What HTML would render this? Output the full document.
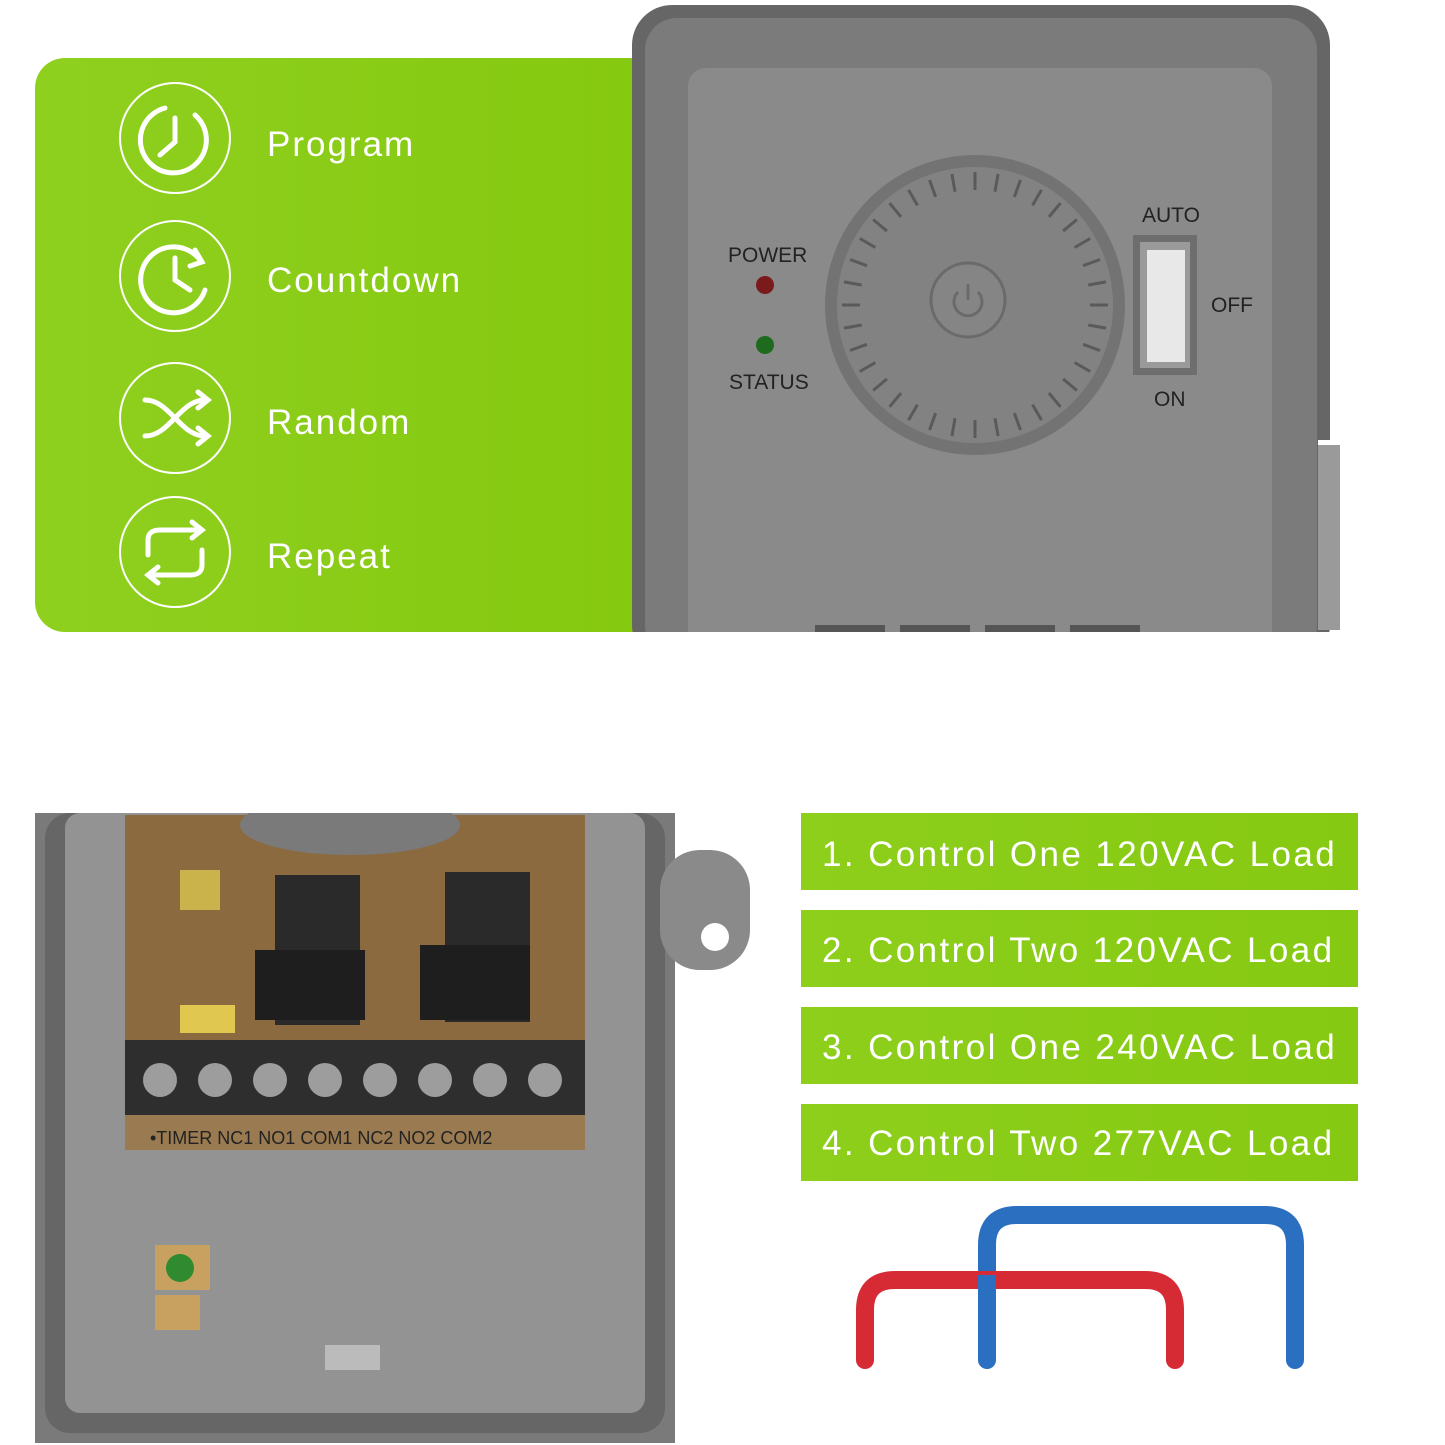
<!DOCTYPE html>
<html><head><meta charset="utf-8"><style>
html,body{margin:0;padding:0;background:#fff;}
svg{display:block}
text{font-family:"Liberation Sans",sans-serif}
</style></head><body>
<svg width="1445" height="1445" viewBox="0 0 1445 1445" xmlns="http://www.w3.org/2000/svg">
<defs>
<linearGradient id="g" x1="0" x2="1"><stop offset="0" stop-color="#8fd01f"/><stop offset="1" stop-color="#84c80e"/></linearGradient>
<linearGradient id="gb" x1="0" x2="1"><stop offset="0" stop-color="#8dcf1b"/><stop offset="1" stop-color="#86c912"/></linearGradient>
<clipPath id="bc"><rect x="35" y="813" width="720" height="632"/></clipPath>
</defs>
<rect x="35" y="58" width="660" height="574" rx="30" fill="url(#g)"/>
<rect x="632" y="5" width="698" height="660" rx="40" fill="#666"/>
<rect x="645" y="18" width="672" height="640" rx="32" fill="#7b7b7b"/>
<rect x="688" y="68" width="584" height="600" rx="18" fill="#8a8a8a"/>
<rect x="1318" y="440" width="100" height="190" fill="#fff"/>
<rect x="1318" y="445" width="22" height="185" fill="#9a9a9a"/>
<rect x="0" y="632" width="1445" height="180" fill="#fff"/>
<g fill="#555"><rect x="815" y="625" width="70" height="7"/><rect x="900" y="625" width="70" height="7"/><rect x="985" y="625" width="70" height="7"/><rect x="1070" y="625" width="70" height="7"/></g>
<circle cx="975" cy="305" r="150" fill="#737373"/>
<circle cx="975" cy="305" r="138" fill="#828282"/>
<g stroke="#5a5a5a" stroke-width="3" id="ticks">
<line x1="975" y1="172" x2="975" y2="190" transform="rotate(0 975 305)"/><line x1="975" y1="172" x2="975" y2="190" transform="rotate(10 975 305)"/><line x1="975" y1="172" x2="975" y2="190" transform="rotate(20 975 305)"/><line x1="975" y1="172" x2="975" y2="190" transform="rotate(30 975 305)"/><line x1="975" y1="172" x2="975" y2="190" transform="rotate(40 975 305)"/><line x1="975" y1="172" x2="975" y2="190" transform="rotate(50 975 305)"/><line x1="975" y1="172" x2="975" y2="190" transform="rotate(60 975 305)"/><line x1="975" y1="172" x2="975" y2="190" transform="rotate(70 975 305)"/><line x1="975" y1="172" x2="975" y2="190" transform="rotate(80 975 305)"/><line x1="975" y1="172" x2="975" y2="190" transform="rotate(90 975 305)"/><line x1="975" y1="172" x2="975" y2="190" transform="rotate(100 975 305)"/><line x1="975" y1="172" x2="975" y2="190" transform="rotate(110 975 305)"/><line x1="975" y1="172" x2="975" y2="190" transform="rotate(120 975 305)"/><line x1="975" y1="172" x2="975" y2="190" transform="rotate(130 975 305)"/><line x1="975" y1="172" x2="975" y2="190" transform="rotate(140 975 305)"/><line x1="975" y1="172" x2="975" y2="190" transform="rotate(150 975 305)"/><line x1="975" y1="172" x2="975" y2="190" transform="rotate(160 975 305)"/><line x1="975" y1="172" x2="975" y2="190" transform="rotate(170 975 305)"/><line x1="975" y1="172" x2="975" y2="190" transform="rotate(180 975 305)"/><line x1="975" y1="172" x2="975" y2="190" transform="rotate(190 975 305)"/><line x1="975" y1="172" x2="975" y2="190" transform="rotate(200 975 305)"/><line x1="975" y1="172" x2="975" y2="190" transform="rotate(210 975 305)"/><line x1="975" y1="172" x2="975" y2="190" transform="rotate(220 975 305)"/><line x1="975" y1="172" x2="975" y2="190" transform="rotate(230 975 305)"/><line x1="975" y1="172" x2="975" y2="190" transform="rotate(240 975 305)"/><line x1="975" y1="172" x2="975" y2="190" transform="rotate(250 975 305)"/><line x1="975" y1="172" x2="975" y2="190" transform="rotate(260 975 305)"/><line x1="975" y1="172" x2="975" y2="190" transform="rotate(270 975 305)"/><line x1="975" y1="172" x2="975" y2="190" transform="rotate(280 975 305)"/><line x1="975" y1="172" x2="975" y2="190" transform="rotate(290 975 305)"/><line x1="975" y1="172" x2="975" y2="190" transform="rotate(300 975 305)"/><line x1="975" y1="172" x2="975" y2="190" transform="rotate(310 975 305)"/><line x1="975" y1="172" x2="975" y2="190" transform="rotate(320 975 305)"/><line x1="975" y1="172" x2="975" y2="190" transform="rotate(330 975 305)"/><line x1="975" y1="172" x2="975" y2="190" transform="rotate(340 975 305)"/><line x1="975" y1="172" x2="975" y2="190" transform="rotate(350 975 305)"/>
</g>
<circle cx="968" cy="300" r="37" fill="#858585" stroke="#6a6a6a" stroke-width="3"/>
<path d="M958 292 A14 14 0 1 0 978 292" fill="none" stroke="#6a6a6a" stroke-width="3"/>
<line x1="968" y1="284" x2="968" y2="300" stroke="#6a6a6a" stroke-width="3"/>
<text x="728" y="262" font-size="21" fill="#222">POWER</text>
<circle cx="765" cy="285" r="9" fill="#7a1a1a"/>
<circle cx="765" cy="345" r="9" fill="#1e6a1e"/>
<text x="729" y="389" font-size="21" fill="#222">STATUS</text>
<text x="1142" y="222" font-size="21" fill="#222">AUTO</text>
<text x="1211" y="312" font-size="21" fill="#222">OFF</text>
<text x="1154" y="406" font-size="21" fill="#222">ON</text>
<rect x="1133" y="235" width="64" height="140" fill="#6e6e6e"/>
<rect x="1140" y="242" width="50" height="126" fill="#9a9a9a"/>
<rect x="1147" y="250" width="38" height="112" fill="#e8e8e8"/>
<g fill="none" stroke="#fff" stroke-width="2">
<circle cx="175" cy="138" r="55"/><circle cx="175" cy="276" r="55"/><circle cx="175" cy="418" r="55"/><circle cx="175" cy="552" r="55"/>
</g>
<g fill="none" stroke="#fff" stroke-width="5" stroke-linecap="round">
<path d="M165 108 A33 33 0 1 0 195 115"/><path d="M175 118 L175 142 L160 155"/>
<path d="M200 260 A33 33 0 1 0 205 290"/><path d="M175 258 L175 280 L190 290"/><path d="M195 250 L202 262 L190 266"/>
<path d="M145 400 C170 400 180 436 205 436"/><path d="M145 436 C170 436 180 400 205 400"/><path d="M198 392 L208 400 L198 408"/><path d="M198 428 L208 436 L198 444"/>
<path d="M148 555 L148 540 Q148 530 160 530 L200 530"/><path d="M192 522 L202 530 L192 538"/><path d="M202 550 L202 565 Q202 575 190 575 L150 575"/><path d="M158 567 L148 575 L158 583"/>
</g>
<g fill="#fff" font-size="35" letter-spacing="2">
<text x="267" y="156">Program</text>
<text x="267" y="292">Countdown</text>
<text x="267" y="434">Random</text>
<text x="267" y="568">Repeat</text>
</g>
<g clip-path="url(#bc)">
<rect x="35" y="813" width="640" height="630" fill="#7a7a7a"/>
<rect x="45" y="813" width="620" height="620" rx="25" fill="#666"/>
<rect x="65" y="813" width="580" height="600" rx="15" fill="#939393"/>
<rect x="660" y="850" width="90" height="120" rx="40" fill="#8a8a8a"/>
<circle cx="715" cy="937" r="14" fill="#fff"/>
<rect x="125" y="815" width="460" height="330" fill="#8b6a40"/>
<ellipse cx="350" cy="825" rx="110" ry="30" fill="#7a7a7a"/>
<rect x="275" y="875" width="85" height="150" fill="#2a2a2a"/>
<rect x="445" y="872" width="85" height="150" fill="#2a2a2a"/>
<rect x="255" y="950" width="110" height="70" fill="#1e1e1e"/>
<rect x="420" y="945" width="110" height="75" fill="#1e1e1e"/>
<rect x="180" y="870" width="40" height="40" fill="#c9b34a"/>
<rect x="180" y="1005" width="55" height="28" fill="#e0c850"/>
<rect x="125" y="1040" width="460" height="75" fill="#2e2e2e"/>
<g fill="#9d9d9d"><circle cx="160" cy="1080" r="17"/><circle cx="215" cy="1080" r="17"/><circle cx="270" cy="1080" r="17"/><circle cx="325" cy="1080" r="17"/><circle cx="380" cy="1080" r="17"/><circle cx="435" cy="1080" r="17"/><circle cx="490" cy="1080" r="17"/><circle cx="545" cy="1080" r="17"/></g>
<rect x="125" y="1115" width="460" height="35" fill="#9a7a50"/>
<text x="150" y="1144" font-size="18" fill="#222" font-family="Liberation Mono">•TIMER  NC1 NO1 COM1 NC2 NO2 COM2</text>
<rect x="155" y="1245" width="55" height="45" fill="#c8a060"/><circle cx="180" cy="1268" r="14" fill="#2f8a30"/>
<rect x="155" y="1295" width="45" height="35" fill="#c8a060"/>
<rect x="325" y="1345" width="55" height="25" fill="#bbb"/>
</g>
<g fill="url(#gb)"><rect x="801" y="813" width="557" height="77"/><rect x="801" y="910" width="557" height="77"/><rect x="801" y="1007" width="557" height="77"/><rect x="801" y="1104" width="557" height="77"/></g>
<g fill="#fff" font-size="35" letter-spacing="2.4">
<text x="822" y="866">1. Control One 120VAC Load</text>
<text x="822" y="962">2. Control Two 120VAC Load</text>
<text x="822" y="1059">3. Control One 240VAC Load</text>
<text x="822" y="1155">4. Control Two 277VAC Load</text>
</g>
<path d="M987 1360 L987 1245 Q987 1215 1017 1215 L1265 1215 Q1295 1215 1295 1245 L1295 1360" fill="none" stroke="#2a6fc0" stroke-width="18" stroke-linecap="round"/>
<path d="M865 1360 L865 1310 Q865 1280 895 1280 L1145 1280 Q1175 1280 1175 1310 L1175 1360" fill="none" stroke="#d62a35" stroke-width="18" stroke-linecap="round"/>
<path d="M987 1360 L987 1275" fill="none" stroke="#2a6fc0" stroke-width="18"/>
</svg>
</body></html>
